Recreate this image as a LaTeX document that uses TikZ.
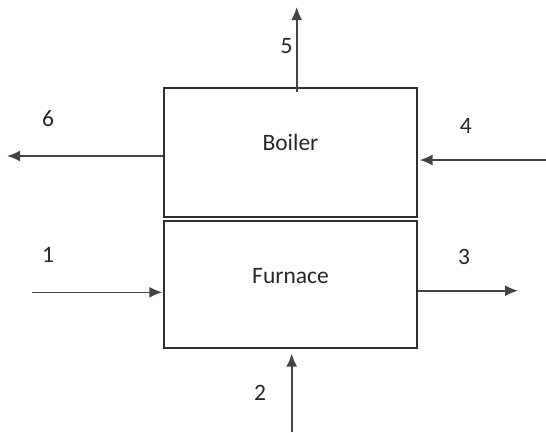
\documentclass[tikz,border=0pt]{standalone}
\usepackage{fontspec}
\setmainfont{Carlito}
\usetikzlibrary{arrows.meta,calc}
\definecolor{boxline}{HTML}{2E2E2E}
\definecolor{arrline}{HTML}{444444}
\tikzset{
  unit/.style={draw=boxline, line width=1.5pt, minimum width=252.7pt, minimum height=127pt, inner sep=0pt},
  flow/.style={draw=arrline, line width=1.6pt, -{Latex[length=13pt,width=11pt]}},
  lbl/.style={font=\fontsize{23.5}{28}\selectfont, text=black!85, inner sep=0pt}
}
\begin{document}
\begin{tikzpicture}[x=1pt,y=-1pt]
\useasboundingbox (0,0) rectangle (546,432);
\node[unit, minimum height=128.7pt] (boiler) at (290.5,152.4) {};
\node[lbl] (boilertxt) at (290.5,142) {Boiler};
\node[unit, minimum height=126.7pt] (furnace) at (290.5,284.5) {};
\node[lbl] (furnacetxt) at (290.5,276) {Furnace};
% free ends
\coordinate (p5) at (296.7,7);
\coordinate (p6) at (7,156);
\coordinate (p4) at (546,160);
\coordinate (p1) at (32,292.3);
\coordinate (p3) at (518,290.7);
\coordinate (p2) at (291.7,432);
% connectors
\draw[flow] ([yshift=-5pt]boiler.north -| p5) -- (p5);
\draw[flow] (boiler.west |- p6) -- (p6);
\draw[flow, shorten >=2pt] (p4) -- (boiler.east |- p4);
\draw[flow, shorten >=1pt] (p1) -- (furnace.west |- p1);
\draw[flow] (furnace.east |- p3) -- (p3);
\draw[flow, shorten >=5pt] (p2) -- (furnace.south -| p2);
% labels
\node[lbl] (l5) at (286.7,46) {5};
\node[lbl] (l6) at (48,119) {6};
\node[lbl] (l4) at (465.7,126) {4};
\node[lbl] (l1) at (48,255) {1};
\node[lbl] (l3) at (464,256.5) {3};
\node[lbl] (l2) at (260,393) {2};
\end{tikzpicture}
\end{document}
